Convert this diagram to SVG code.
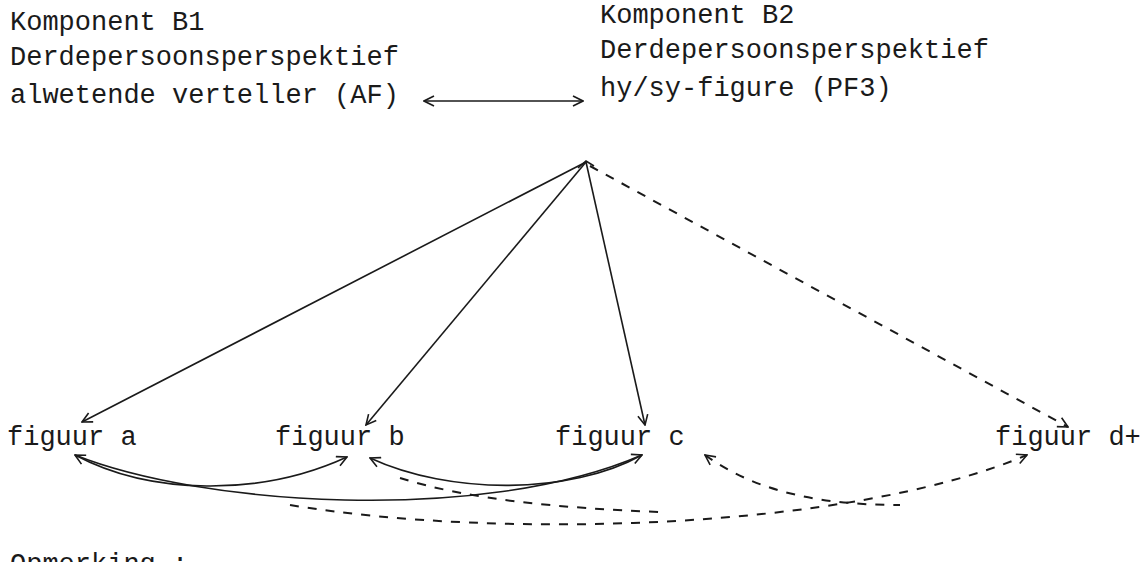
<svg xmlns="http://www.w3.org/2000/svg" width="1145" height="562" viewBox="0 0 1145 562">
<style>
text{font-family:"Liberation Mono","DejaVu Sans Mono",monospace;font-size:27px;fill:#1a1a1a}
.c{fill:none;stroke:#1a1a1a;stroke-width:1.6}
.d{fill:none;stroke:#1a1a1a;stroke-width:2;stroke-dasharray:9 9}
</style>
<defs>
<marker id="ah" viewBox="0 0 12 12" refX="11" refY="6" markerWidth="12" markerHeight="12" markerUnits="userSpaceOnUse" orient="auto-start-reverse">
<path d="M1,1 L11,6 L1,11" fill="none" stroke="#1a1a1a" stroke-width="1.6"/>
</marker>
</defs>
<rect width="1145" height="562" fill="#fff"/>
<g id="b1">
<text x="10" y="30">Komponent B1</text>
<text x="10" y="65">Derdepersoonsperspektief</text>
<text x="10" y="103">alwetende verteller (AF)</text>
</g>
<g id="b2">
<text x="600" y="23">Komponent B2</text>
<text x="600" y="58">Derdepersoonsperspektief</text>
<text x="600" y="96">hy/sy-figure (PF3)</text>
</g>
<g id="fa"><text x="7" y="445">figuur a</text></g>
<g id="fb"><text x="275" y="445">figuur b</text></g>
<g id="fc"><text x="555" y="445">figuur c</text></g>
<g id="fd"><text x="995" y="445">figuur d+</text></g>
<g id="note"><text x="10" y="572">Opmerking :</text></g>
<g id="connectors">
<line class="c" x1="424" y1="101" x2="583" y2="101" marker-start="url(#ah)" marker-end="url(#ah)"/>
<path class="c" d="M578,168 L586,161 L594,166"/>
<line class="c" x1="586" y1="162" x2="82" y2="422" marker-end="url(#ah)"/>
<line class="c" x1="586" y1="162" x2="366" y2="425" marker-end="url(#ah)"/>
<line class="c" x1="586" y1="162" x2="645" y2="425" marker-end="url(#ah)"/>
<line class="d" x1="590" y1="166" x2="1068" y2="427" marker-end="url(#ah)"/>
<path class="c" d="M75,455 C150,495 260,497 347,457" marker-start="url(#ah)" marker-end="url(#ah)"/>
<path class="c" d="M75,455 C200,505 480,525 642,455" marker-end="url(#ah)"/>
<path class="c" d="M370,458 C450,495 570,495 642,455" marker-start="url(#ah)"/>
<path class="d" d="M290,505 C500,540 850,530 1027,455" marker-end="url(#ah)"/>
<path class="d" d="M400,478 C470,500 560,508 660,512"/>
<path class="d" d="M705,455 C760,495 830,505 900,505" marker-start="url(#ah)"/>
</g>
</svg>
